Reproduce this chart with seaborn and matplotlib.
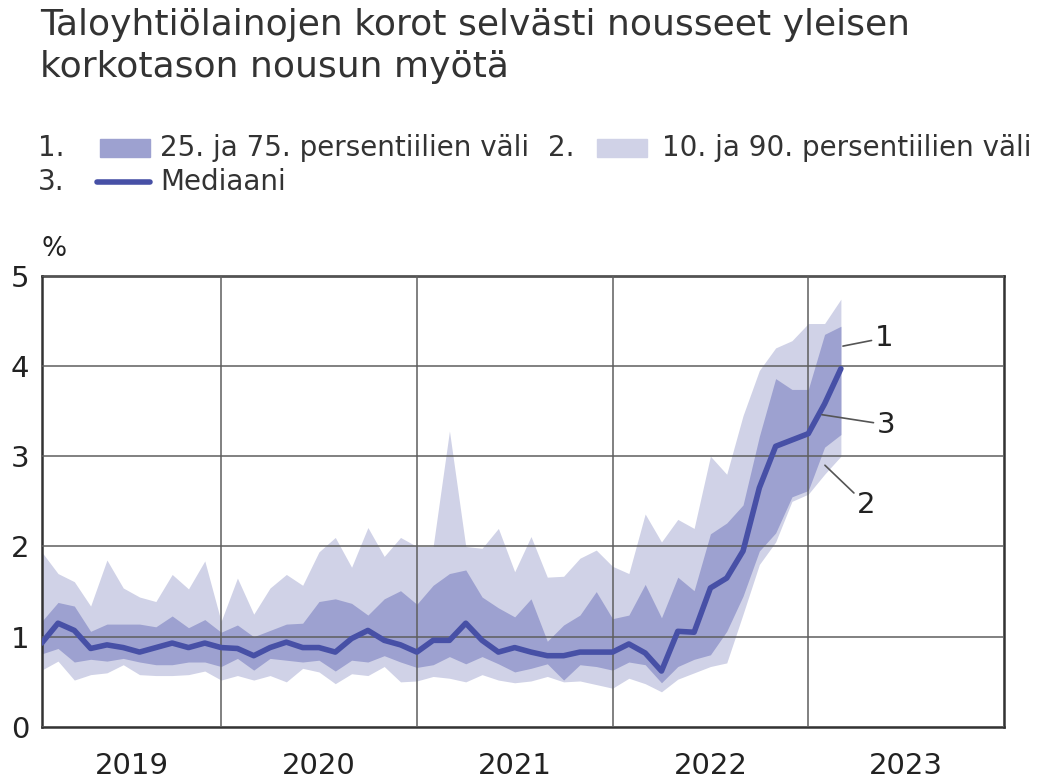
import matplotlib.pyplot as plt
import matplotlib.patches as mpatches
import matplotlib.lines as mlines
import seaborn as sns
import pandas as pd
import numpy as np

# monthly observations, Feb 2019 - Mar 2023
months = pd.date_range('2019-02-01', '2023-03-01', freq='MS')

median = [0.93, 1.15, 1.07, 0.87, 0.91, 0.88, 0.83, 0.88, 0.93, 0.88, 0.93,
          0.88, 0.87, 0.79, 0.88, 0.94, 0.88, 0.88, 0.83, 0.98, 1.07, 0.96,
          0.91, 0.83, 0.96, 0.96, 1.15, 0.96, 0.83, 0.88, 0.83, 0.79, 0.79,
          0.83, 0.83, 0.83, 0.92, 0.82, 0.62, 1.06, 1.05, 1.54, 1.65, 1.95,
          2.65, 3.11, 3.18, 3.25, 3.58, 3.97]

p75 = [1.17, 1.38, 1.34, 1.06, 1.14, 1.14, 1.14, 1.11, 1.23, 1.10, 1.19,
       1.05, 1.13, 1.00, 1.07, 1.14, 1.15, 1.39, 1.42, 1.37, 1.24, 1.42,
       1.51, 1.36, 1.57, 1.70, 1.74, 1.44, 1.32, 1.22, 1.42, 0.95, 1.13,
       1.24, 1.50, 1.20, 1.24, 1.58, 1.21, 1.66, 1.51, 2.14, 2.26, 2.46,
       3.22, 3.86, 3.74, 3.74, 4.35, 4.44]

p25 = [0.81, 0.87, 0.72, 0.75, 0.73, 0.76, 0.72, 0.69, 0.69, 0.72, 0.72,
       0.67, 0.76, 0.63, 0.76, 0.74, 0.72, 0.74, 0.62, 0.74, 0.72, 0.79,
       0.72, 0.66, 0.69, 0.78, 0.70, 0.78, 0.70, 0.61, 0.65, 0.70, 0.52,
       0.69, 0.67, 0.63, 0.72, 0.69, 0.49, 0.67, 0.75, 0.80, 1.06, 1.45,
       1.95, 2.15, 2.55, 2.62, 3.10, 3.24]

p90 = [1.94, 1.70, 1.61, 1.34, 1.85, 1.54, 1.44, 1.39, 1.69, 1.53, 1.84,
       1.17, 1.65, 1.25, 1.54, 1.69, 1.57, 1.94, 2.10, 1.77, 2.21, 1.89,
       2.10, 2.00, 2.00, 3.28, 2.00, 1.98, 2.20, 1.72, 2.11, 1.66, 1.67,
       1.87, 1.96, 1.78, 1.70, 2.36, 2.05, 2.30, 2.20, 3.00, 2.80, 3.45,
       3.95, 4.20, 4.28, 4.47, 4.47, 4.74]

p10 = [0.63, 0.73, 0.52, 0.58, 0.60, 0.69, 0.58, 0.57, 0.57, 0.58, 0.62,
       0.52, 0.57, 0.52, 0.57, 0.50, 0.65, 0.61, 0.48, 0.59, 0.57, 0.67,
       0.50, 0.51, 0.56, 0.54, 0.50, 0.58, 0.52, 0.49, 0.51, 0.56, 0.50,
       0.51, 0.47, 0.43, 0.54, 0.48, 0.39, 0.53, 0.60, 0.67, 0.71, 1.25,
       1.80, 2.05, 2.50, 2.58, 2.80, 3.00]

years = [2019, 2020, 2021, 2022, 2023]
yticks = [0, 1, 2, 3, 4, 5]

title = 'Taloyhtiölainojen korot selvästi nousseet yleisen\nkorkotason nousun myötä'
legend_labels = ['25. ja 75. persentiilien väli', '10. ja 90. persentiilien väli', 'Mediaani']

dark_col = '#9da1d0'
light_col = '#d0d2e7'
line_col = '#4750a6'
text_col = '#333333'

# decimal year for each month
x = months.year + (months.month - 1) / 12
df = pd.DataFrame({'x': x, 'median': median, 'p25': p25, 'p75': p75,
                   'p10': p10, 'p90': p90})

sns.set_theme(style='white')
plt.rcParams['font.family'] = ['DejaVu Sans']

fig = plt.figure(figsize=(10.53, 7.8), dpi=100)
ax = fig.add_axes([41.7 / 1053, 1 - 727 / 780, (1004 - 41.7) / 1053, (727 - 275.7) / 780])

ax.fill_between(df['x'], df['p10'], df['p90'], color=light_col, linewidth=0, zorder=1)
ax.fill_between(df['x'], df['p25'], df['p75'], color=dark_col, linewidth=0, zorder=2)
sns.lineplot(data=df, x='x', y='median', ax=ax, color=line_col, linewidth=4,
             zorder=3, legend=False)

x0 = 2019 + 1 / 12
ax.set_xlim(x0, 2024)
ax.set_ylim(0, 5)

# year gridlines at year boundaries, labels centered in each year
ax.set_xticks(years[1:] + [2024])
ax.set_xticklabels([])
centers = [(max(y, x0) + y + 1) / 2 for y in years]
ax.set_xticks(centers, minor=True)
ax.set_xticklabels([str(y) for y in years], minor=True, fontsize=21, color='#222222')
ax.set_yticks(yticks)
ax.set_yticklabels([str(v) for v in yticks], fontsize=21, color='#222222')
ax.tick_params(axis='x', which='both', length=0, pad=18)
ax.tick_params(axis='y', length=0, pad=9)

ax.grid(True, which='major', color='#5e5e5e', linewidth=1.1, zorder=0)
ax.set_axisbelow(False)
for gl in ax.get_xgridlines() + ax.get_ygridlines():
    gl.set_zorder(2.5)
for sp in ax.spines.values():
    sp.set_color('#333333')
    sp.set_linewidth(1.8)
ax.set_xlabel('')
ax.set_ylabel('')

ax.text(0.0, 1.03, '%', transform=ax.transAxes, fontsize=19, color='#222222',
        ha='left', va='bottom')

# leader-line labels
ann = dict(fontsize=21, color='#222222', va='center', ha='left')
lk = dict(arrowstyle='-', color='#555555', lw=1.2, shrinkA=0, shrinkB=0)
ax.annotate('1', xy=(2023.177, 4.22), xytext=(2023.34, 4.31),
            arrowprops=lk, **ann)
ax.annotate('3', xy=(2023.07, 3.46), xytext=(2023.35, 3.35),
            arrowprops=lk, **ann)
ax.annotate('2', xy=(2023.085, 2.90), xytext=(2023.25, 2.46),
            arrowprops=lk, **ann)

# title
fig.text(40 / 1053, 1 - 8 / 780, title, fontsize=26, color=text_col,
         ha='left', va='top', linespacing=1.3)

# legend drawn in figure coords
fs = 20
row1 = 1 - 148 / 780
row2 = 1 - 182 / 780
fig.text(38 / 1053, row1, '1.', fontsize=fs, color=text_col, va='center')
fig.patches.append(mpatches.Rectangle((100 / 1053, row1 - 9 / 780), 50 / 1053, 18 / 780,
                                      transform=fig.transFigure, color=dark_col))
fig.text(160 / 1053, row1, legend_labels[0], fontsize=fs, color=text_col, va='center')
fig.text(548 / 1053, row1, '2.', fontsize=fs, color=text_col, va='center')
fig.patches.append(mpatches.Rectangle((597 / 1053, row1 - 9 / 780), 50 / 1053, 18 / 780,
                                      transform=fig.transFigure, color=light_col))
fig.text(662 / 1053, row1, legend_labels[1], fontsize=fs, color=text_col, va='center')
fig.text(38 / 1053, row2, '3.', fontsize=fs, color=text_col, va='center')
fig.lines.append(mlines.Line2D([97 / 1053, 150 / 1053], [row2, row2], transform=fig.transFigure,
                               color=line_col, linewidth=4))
fig.text(160 / 1053, row2, legend_labels[2], fontsize=fs, color=text_col, va='center')

fig.savefig('out.png', dpi=100, facecolor='white')
